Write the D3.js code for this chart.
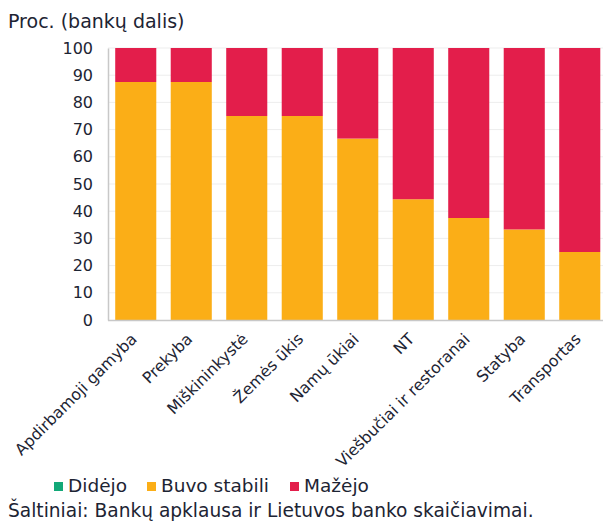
<!DOCTYPE html>
<html>
<head>
<meta charset="utf-8">
<script src="https://cdn.jsdelivr.net/npm/d3@7"></script>
<style>
  body { margin: 0; background: #fff; }
  svg text { font-family: "DejaVu Sans", Verdana, sans-serif; }
</style>
</head>
<body>
<svg id="chart" width="603" height="522"></svg>
<script>
const categories = ["Apdirbamoji gamyba", "Prekyba", "Miškininkystė", "Žemės ūkis", "Namų ūkiai", "NT", "Viešbučiai ir restoranai", "Statyba", "Transportas"];
const didejo = [0, 0, 0, 0, 0, 0, 0, 0, 0];
const stabili = [87.5, 87.5, 75, 75, 66.7, 44.4, 37.5, 33.3, 25];
const mazejo = [12.5, 12.5, 25, 25, 33.3, 55.6, 62.5, 66.7, 75];
const yTicks = [0, 10, 20, 30, 40, 50, 60, 70, 80, 90, 100];
const seriesNames = ["Didėjo", "Buvo stabili", "Mažėjo"];
const seriesColors = ["#12a878", "#fbae17", "#e31e4b"];

(function() {
  const svg = d3.select("#chart");
  const left = 108, right = 607.5, plotTop = 48, bottom = 320;
  const textColor = "#1d2433";

  const x = d3.scaleBand()
    .domain(categories)
    .range([left, right])
    .paddingInner(0.26)
    .paddingOuter(0.13);

  const y = d3.scaleLinear().domain([0, 100]).range([bottom, plotTop]);

  // gridlines
  svg.append("g")
    .selectAll("line")
    .data(yTicks.slice(1))
    .join("line")
    .attr("x1", left).attr("x2", 603)
    .attr("y1", d => y(d)).attr("y2", d => y(d))
    .attr("stroke", "#ededed").attr("stroke-width", 1);

  const rows = categories.map((c, i) => ({ cat: c, didejo: didejo[i], stabili: stabili[i], mazejo: mazejo[i] }));
  const layers = d3.stack().keys(["didejo", "stabili", "mazejo"])(rows);

  svg.append("g")
    .selectAll("g")
    .data(layers)
    .join("g")
    .attr("fill", (d, i) => seriesColors[i])
    .selectAll("rect")
    .data(d => d)
    .join("rect")
    .attr("x", d => x(d.data.cat))
    .attr("width", x.bandwidth())
    .attr("y", d => y(d[1]))
    .attr("height", d => y(d[0]) - y(d[1]));

  // y axis
  const yAxis = svg.append("g")
    .attr("transform", `translate(${left},0)`)
    .call(d3.axisLeft(y).tickValues(yTicks).tickSize(0).tickPadding(15));
  yAxis.select(".domain").attr("stroke", "#c8c8c8").attr("stroke-width", 1.5);
  yAxis.selectAll("text")
    .attr("font-size", 16)
    .attr("fill", textColor);

  // x axis
  const xAxis = svg.append("g")
    .attr("transform", `translate(0,${bottom})`)
    .call(d3.axisBottom(x).tickSize(0).tickSizeOuter(0));
  xAxis.select(".domain").attr("stroke", "#c8c8c8").attr("stroke-width", 1.5)
    .attr("d", `M${left},0.5H603`);
  xAxis.selectAll("text")
    .attr("font-size", 15.8)
    .attr("fill", textColor)
    .attr("text-anchor", "end")
    .attr("dy", "0.35em")
    .attr("transform", "translate(-4,14) rotate(-45)");

  // title
  svg.append("text")
    .attr("x", 8).attr("y", 28)
    .attr("font-size", 19)
    .attr("fill", textColor)
    .text("Proc. (bankų dalis)");

  // legend
  const legendX = [54, 147, 290];
  const legend = svg.append("g")
    .selectAll("g")
    .data(seriesNames)
    .join("g")
    .attr("transform", (d, i) => `translate(${legendX[i]},492)`);
  legend.append("rect")
    .attr("x", 0).attr("y", -10).attr("width", 9).attr("height", 9)
    .attr("fill", (d, i) => seriesColors[i]);
  legend.append("text")
    .attr("x", 14).attr("y", 0)
    .attr("font-size", 18.5)
    .attr("fill", textColor)
    .text(d => d);

  svg.append("text")
    .attr("x", 8).attr("y", 517)
    .attr("font-size", 18.6)
    .attr("fill", textColor)
    .text("Šaltiniai: Bankų apklausa ir Lietuvos banko skaičiavimai.");
})();
</script>
</body>
</html>
